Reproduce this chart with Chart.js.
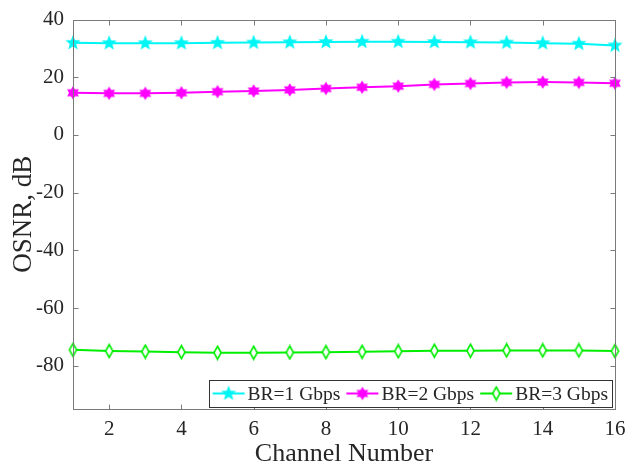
<!DOCTYPE html>
<html>
<head>
<meta charset="utf-8">
<script src="https://cdn.jsdelivr.net/npm/chart.js@4/dist/chart.umd.min.js"></script>
<style>
  html, body { margin: 0; padding: 0; background: #ffffff; }
  #wrap { width: 627px; height: 467px; }
</style>
</head>
<body>
<div id="wrap"><canvas id="c" width="627" height="467"></canvas></div>
<script>
// OSNR per channel for three bit rates
const channels = [1, 2, 3, 4, 5, 6, 7, 8, 9, 10, 11, 12, 13, 14, 15, 16];
const osnr1G = [31.9, 31.8, 31.8, 31.8, 31.9, 32.0, 32.1, 32.2, 32.3, 32.3, 32.2, 32.1, 32.0, 31.8, 31.6, 31.0];
const osnr2G = [14.6, 14.4, 14.4, 14.6, 15.0, 15.2, 15.6, 16.1, 16.5, 16.9, 17.5, 17.8, 18.2, 18.3, 18.2, 17.9];
const osnr3G = [-74.5, -74.9, -75.1, -75.3, -75.5, -75.5, -75.4, -75.3, -75.2, -75.0, -74.8, -74.8, -74.7, -74.7, -74.7, -74.9];
const seriesLabels = ['BR=1 Gbps', 'BR=2 Gbps', 'BR=3 Gbps'];
const xTicks = [2, 4, 6, 8, 10, 12, 14, 16];
const yTicks = [-80, -60, -40, -20, 0, 20, 40];

const FONT = "'Liberation Serif', 'Times New Roman', serif";
const TEXT = '#262626';
const FRAME = '#7a7a7a';

// marker glyphs drawn on small canvases
function starMarker(points, outer, inner, color) {
  const s = Math.ceil(outer * 2 + 2);
  const cv = document.createElement('canvas');
  cv.width = s; cv.height = s;
  const g = cv.getContext('2d');
  g.translate(s / 2, s / 2);
  g.beginPath();
  for (let i = 0; i < points * 2; i++) {
    const r = i % 2 === 0 ? outer : inner;
    const a = -Math.PI / 2 + i * Math.PI / points;
    const px = r * Math.cos(a), py = r * Math.sin(a);
    if (i === 0) g.moveTo(px, py); else g.lineTo(px, py);
  }
  g.closePath();
  g.fillStyle = color;
  g.fill();
  return cv;
}
function diamondMarker(hw, hh, color) {
  const w = Math.ceil(hw * 2 + 3), h = Math.ceil(hh * 2 + 3);
  const cv = document.createElement('canvas');
  cv.width = w; cv.height = h;
  const g = cv.getContext('2d');
  g.translate(w / 2, h / 2);
  g.beginPath();
  g.moveTo(0, -hh); g.lineTo(hw, 0); g.lineTo(0, hh); g.lineTo(-hw, 0);
  g.closePath();
  g.fillStyle = '#ffffff';
  g.fill();
  g.lineWidth = 1.6;
  g.strokeStyle = color;
  g.stroke();
  return cv;
}

const colors = ['#00f5f5', '#ff00ff', '#00ee00'];
const markers = [
  starMarker(5, 8, 3.4, colors[0]),
  starMarker(6, 6.8, 4, colors[1]),
  diamondMarker(3.6, 6.5, colors[2])
];

function toPoints(ys) { return channels.map((c, i) => ({ x: c, y: ys[i] })); }

// axes frame with inward ticks on all four sides
const framePlugin = {
  id: 'frame',
  afterDatasetsDraw(chart) {
    const { ctx, chartArea: a, scales } = chart;
    ctx.save();
    ctx.strokeStyle = FRAME;
    ctx.lineWidth = 1;
    const L = Math.round(a.left) + 0.5, R = Math.round(a.right) + 0.5;
    const T = Math.round(a.top) + 0.5, B = Math.round(a.bottom) + 0.5;
    ctx.strokeRect(L, T, R - L, B - T);
    ctx.beginPath();
    const tl = 5;
    xTicks.forEach(v => {
      const x = Math.round(scales.x.getPixelForValue(v)) + 0.5;
      ctx.moveTo(x, B); ctx.lineTo(x, B - tl);
      ctx.moveTo(x, T); ctx.lineTo(x, T + tl);
    });
    yTicks.forEach(v => {
      const y = Math.round(scales.y.getPixelForValue(v)) + 0.5;
      ctx.moveTo(L, y); ctx.lineTo(L + tl, y);
      ctx.moveTo(R, y); ctx.lineTo(R - tl, y);
    });
    ctx.stroke();
    ctx.restore();
  }
};

// boxed legend placed in the lower-right corner of the plot
const insetLegend = {
  id: 'insetLegend',
  afterDraw(chart) {
    const { ctx, chartArea: a } = chart;
    ctx.save();
    ctx.font = '19.5px ' + FONT;
    const lineLen = 32, gap = 3, pad = 4, between = 6;
    const widths = chart.data.datasets.map(d => ctx.measureText(d.label).width);
    let total = pad;
    widths.forEach((w, i) => { total += lineLen + gap + w + (i < widths.length - 1 ? between : pad); });
    const h = 27;
    const right = a.right - 3, bottom = a.bottom - 2;
    const left = right - total, top = bottom - h;
    ctx.fillStyle = '#ffffff';
    ctx.fillRect(left, top, total, h);
    ctx.strokeStyle = '#333333';
    ctx.lineWidth = 1;
    ctx.strokeRect(Math.round(left) + 0.5, Math.round(top) + 0.5, Math.round(total), h);
    let x = left + pad;
    const cy = top + h / 2;
    chart.data.datasets.forEach((d, i) => {
      ctx.strokeStyle = d.borderColor;
      ctx.lineWidth = 2;
      ctx.beginPath();
      ctx.moveTo(x, cy); ctx.lineTo(x + lineLen, cy);
      ctx.stroke();
      const m = d.pointStyle;
      ctx.drawImage(m, x + lineLen / 2 - m.width / 2, cy - m.height / 2);
      x += lineLen + gap;
      ctx.fillStyle = TEXT;
      ctx.textBaseline = 'middle';
      ctx.fillText(d.label, x, cy + 1);
      x += widths[i] + between;
    });
    ctx.restore();
  }
};

new Chart(document.getElementById('c'), {
  type: 'line',
  data: {
    datasets: [osnr1G, osnr2G, osnr3G].map((ys, i) => ({
      label: seriesLabels[i],
      data: toPoints(ys),
      borderColor: colors[i],
      backgroundColor: colors[i],
      borderWidth: 2,
      pointStyle: markers[i],
      pointRadius: 7,
      tension: 0,
      clip: false
    }))
  },
  options: {
    responsive: false,
    animation: false,
    devicePixelRatio: 1,
    layout: { padding: { left: 0, top: 19.5, right: 12, bottom: 0 } },
    plugins: { legend: { display: false }, tooltip: { enabled: false } },
    scales: {
      x: {
        type: 'linear',
        min: 1, max: 16,
        afterBuildTicks(s) { s.ticks = xTicks.map(v => ({ value: v })); },
        afterFit(s) { s.height = 58; s.paddingLeft = 0; s.paddingRight = 0; },
        grid: { display: false, drawTicks: false },
        border: { display: false },
        ticks: { color: TEXT, font: { family: FONT, size: 21 }, padding: 8, maxRotation: 0 },
        title: { display: true, text: 'Channel Number', color: TEXT, font: { family: FONT, size: 26 }, padding: { top: 0, bottom: -3 } }
      },
      y: {
        type: 'linear',
        min: -95, max: 40,
        afterBuildTicks(s) { s.ticks = yTicks.map(v => ({ value: v })); },
        afterFit(s) { s.width = 73; s.paddingTop = 0; s.paddingBottom = 0; },
        grid: { display: false, drawTicks: false },
        border: { display: false },
        ticks: { color: TEXT, font: { family: FONT, size: 21 }, padding: 9 },
        title: { display: true, text: 'OSNR, dB', color: TEXT, font: { family: FONT, size: 27 }, padding: { top: 8, bottom: 0 } }
      }
    }
  },
  plugins: [framePlugin, insetLegend]
});
</script>
</body>
</html>
